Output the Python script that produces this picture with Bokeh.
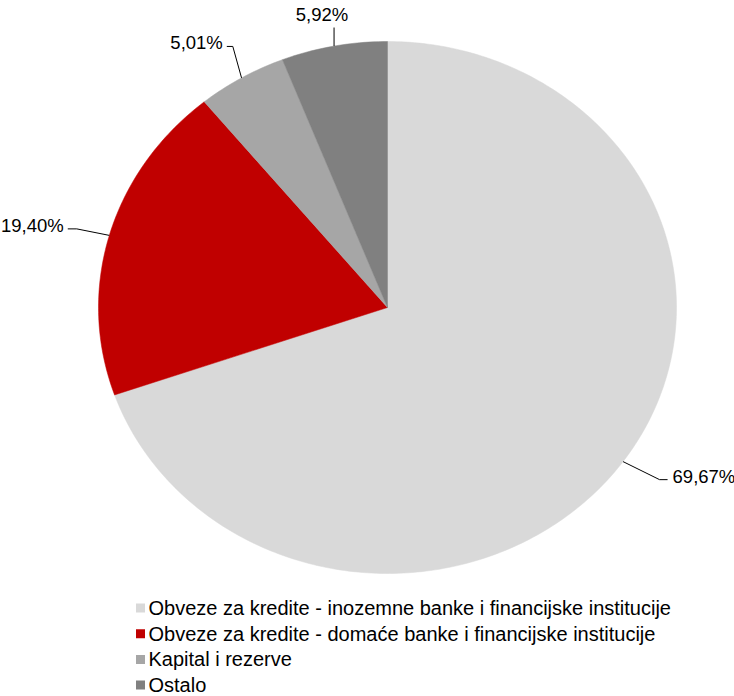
import math
from bokeh.plotting import figure
from bokeh.models import Range1d, ColumnDataSource
from bokeh.core.properties import value
from bokeh.embed import file_html
from bokeh.resources import INLINE

# ---- data ----
categories = [
    "Obveze za kredite - inozemne banke i financijske institucije",
    "Obveze za kredite - domaće banke i  financijske institucije",
    "Kapital i rezerve",
    "Ostalo",
]
shares = [69.67, 19.40, 5.01, 5.92]
colors = ["#D9D9D9", "#C00000", "#A6A6A6", "#808080"]

# ---- layout (picture pixel coordinates) ----
W, H = 734, 696
CX, CY, RX, RY = 387, 307, 289, 266
FONT = "Liberation Sans"
# elbow factors (x, y) relative to the ellipse for each label leader
elbow_k = [(1.155, 1.117), (1.117, 1.09), (1.06, 1.137), (1.0, 1.071)]
tail = [8, -9, -6, 0]

p = figure(width=W, height=H, output_backend="svg", toolbar_location=None,
           x_range=Range1d(0, W), y_range=Range1d(H, 0),
           min_border=0)
p.axis.visible = False
p.grid.visible = False
p.outline_line_color = None
p.background_fill_color = "white"


def pt(theta, kx=1.0, ky=1.0):
    return CX + RX * kx * math.sin(theta), CY - RY * ky * math.cos(theta)


total = sum(shares)
xs, ys, mids = [], [], []
acc = 0.0
for v in shares:
    a0 = acc / total * 2 * math.pi
    a1 = (acc + v) / total * 2 * math.pi
    n = max(4, int(v * 4))
    px, py = [CX], [CY]
    for i in range(n + 1):
        t = a0 + (a1 - a0) * i / n
        x, y = pt(t)
        px.append(x)
        py.append(y)
    xs.append(px)
    ys.append(py)
    mids.append((a0 + a1) / 2)
    acc += v

src = ColumnDataSource(dict(xs=xs, ys=ys, color=colors))
p.patches("xs", "ys", source=src, fill_color="color", line_color="color",
          line_width=0.5)

# ---- data labels with leader lines ----
for i, v in enumerate(shares):
    m = mids[i]
    sx, sy = pt(m)
    kx, ky = elbow_k[i]
    ex, ey = pt(m, kx, ky)
    txt = f"{v:.2f}".replace(".", ",") + "%"
    if tail[i] != 0:
        tx = ex + tail[i]
        p.line([sx, ex, tx], [sy, ey, ey], line_color="black", line_width=1)
        x = tx + (5 if tail[i] > 0 else -4)
        y = ey - 3.5
        a = "left" if tail[i] > 0 else "right"
        b = "middle"
    else:
        p.line([sx, ex], [sy, ey], line_color="black", line_width=1)
        x, y, a, b = ex - 12, ey - 3, "center", "bottom"
    p.text(x=[x], y=[y], text=[txt], text_font=value(FONT),
           text_font_size="18.5px", text_color="black",
           text_align=a, text_baseline=b)

# ---- legend ----
LX, LY0, PITCH = 140, 607.5, 25.7
leg_y = [LY0 + i * PITCH for i in range(len(categories))]
p.scatter(x=[LX] * len(categories), y=leg_y, marker="square", size=9,
          fill_color=colors, line_color=None)
p.text(x=[LX + 8] * len(categories), y=leg_y, text=categories,
       text_font=value(FONT), text_font_size="20px", text_color="black",
       text_align="left", text_baseline="middle")

open("out.html", "w").write(file_html(p, INLINE))
